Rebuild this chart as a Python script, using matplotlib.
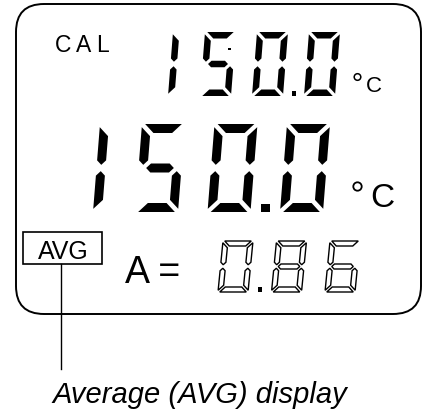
import matplotlib.pyplot as plt
from matplotlib.patches import Polygon, FancyBboxPatch, Rectangle, Circle

# readings shown on the LCD
cal_reading = "150.0"
main_reading = "150.0"
avg_reading = "0.86"
unit = "C"
cal_label = "CAL"
avg_label = "AVG"
avg_prefix = "A ="
caption = "Average (AVG) display"

SEGMENTS = {"0": "abcdef", "1": "bc", "2": "abged", "3": "abgcd", "4": "fgbc",
            "5": "afgcd", "6": "afgedc", "7": "abc", "8": "abcdefg", "9": "abcdfg"}

plt.rcParams['font.family'] = ['Liberation Sans', 'DejaVu Sans']

fig = plt.figure(figsize=(4.24, 4.14), dpi=100)
ax = fig.add_axes([0, 0, 1, 1])
ax.set_xlim(0, 424)
ax.set_ylim(414, 0)
ax.axis('off')


def seg_shapes(w, h, t, g):
    m = h / 2
    return {
        "a": [(g, 0), (w - g, 0), (w - t - g, t), (t + g, t)],
        "d": [(t + g, h - t), (w - t - g, h - t), (w - g, h), (g, h)],
        "f": [(0, g), (t, t + g), (t, m - t / 2 - g), (t / 2, m - g), (0, m - t / 2 - g)],
        "b": [(w, g), (w - t, t + g), (w - t, m - t / 2 - g), (w - t / 2, m - g), (w, m - t / 2 - g)],
        "e": [(0, m + t / 2 + g), (t / 2, m + g), (t, m + t / 2 + g), (t, h - t - g), (0, h - g)],
        "c": [(w, m + t / 2 + g), (w - t / 2, m + g), (w - t, m + t / 2 + g), (w - t, h - t - g), (w, h - g)],
        "g": [(t / 2 + g, m), (t + g, m - t / 2), (w - t - g, m - t / 2), (w - t / 2 - g, m),
              (w - t - g, m + t / 2), (t + g, m + t / 2)],
    }


def draw_digit(x0, ytop, segs, w, h, t, slant, hollow):
    shapes = seg_shapes(w, h, t, t * 0.35)
    for s in segs:
        pts = [(x0 + u + slant * (1 - v / h), ytop + v) for u, v in shapes[s]]
        if hollow:
            ax.add_patch(Polygon(pts, closed=True, fc='white', ec='black', lw=1.0))
        else:
            ax.add_patch(Polygon(pts, closed=True, fc='black', ec='none'))


def draw_reading(text, x_start, ytop, w, h, t, slant, pitch, lead, dot, hollow=False):
    x = x_start
    first = True
    for ch in text:
        if ch == ".":
            cx = x - (pitch - w) / 2
            ax.add_patch(Rectangle((cx - dot[0] / 2, ytop + h - dot[1]), dot[0], dot[1], fc='black'))
            continue
        if ch == "1" and first:
            # half-width leading one, drawn on the left bars
            draw_digit(x - lead, ytop, "ef", w, h, t, slant, hollow)
        else:
            draw_digit(x, ytop, SEGMENTS[ch], w, h, t, slant, hollow)
            x += pitch
        first = False


# LCD frame
ax.add_patch(FancyBboxPatch((16, 5), 405, 310, boxstyle="round,pad=0,rounding_size=28",
                            fc='white', ec='black', lw=1.4))

# CAL row
for i, ch in enumerate(cal_label):
    ax.text(55 + i * 20.5, 52, ch, fontsize=16.5, ha='left', va='baseline')
draw_reading(cal_reading, 200, 33, 31, 64, 6.5, 5, 52, 32, (4, 5))
ax.add_patch(Rectangle((228, 48.5), 2.5, 2.5, fc='black'))
ax.add_patch(Circle((357.5, 78), 3.3, fc='none', ec='black', lw=1.1))
ax.text(366, 92, unit, fontsize=16, ha='left', va='baseline')

# main reading
draw_reading(main_reading, 135, 125, 43, 88, 9, 7, 72.5, 42, (9, 8))
ax.add_patch(Circle((357.5, 187.5), 4.2, fc='none', ec='black', lw=1.3))
ax.text(370, 207, unit, fontsize=24, ha='left', va='baseline')

# AVG row
ax.add_patch(Rectangle((23, 233), 79, 32, fc='none', ec='black', lw=1.2))
ax.text(63, 259, avg_label, fontsize=18, ha='center', va='baseline')
ax.text(125, 283, avg_prefix, fontsize=27, ha='left', va='baseline')
draw_reading(avg_reading, 218, 242, 30, 51, 5, 5, 53.5, 34, (3.5, 5), hollow=True)

# leader and caption
ax.plot([61, 61], [265, 370], color='black', lw=1.0)
ax.text(200, 403, caption, fontsize=21, style='italic', ha='center', va='baseline')

fig.savefig("out.png", dpi=100)
